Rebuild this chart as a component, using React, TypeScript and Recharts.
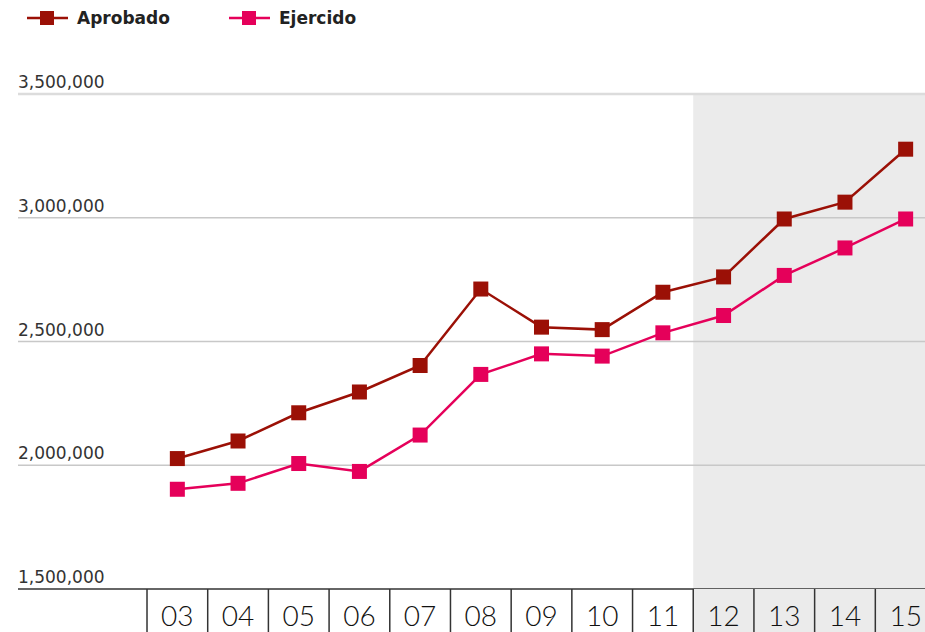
import React from 'react';
import { LineChart, Line, XAxis, YAxis, ReferenceArea, ReferenceLine } from 'recharts';

const years = ['03', '04', '05', '06', '07', '08', '09', '10', '11', '12', '13', '14', '15'];
const aprobado = [2027000, 2098000, 2212000, 2296000, 2403000, 2712000, 2558000, 2548000, 2699000, 2761000, 2995000, 3063000, 3277000];
const ejercido = [1903000, 1927000, 2007000, 1975000, 2122000, 2367000, 2450000, 2441000, 2535000, 2605000, 2767000, 2878000, 2995000];
const yTicks = [1500000, 2000000, 2500000, 3000000, 3500000];
const shadedYears = ['12', '13', '14', '15'];

const series = [
  { key: 'aprobado', name: 'Aprobado', color: '#9b1006' },
  { key: 'ejercido', name: 'Ejercido', color: '#e5005a' },
];

const data = years.map((year, i) => ({ year, aprobado: aprobado[i], ejercido: ejercido[i] }));

const BAND = 60.67;
const AXIS_H = 43;

function SquareDot({ cx, cy, stroke }: any) {
  if (cx == null || cy == null) return null;
  return <rect x={cx - 7.5} y={cy - 7.5} width={15} height={15} fill={stroke} />;
}

function YearTick({ x, y, payload }: any) {
  const top = y - 8;
  const shaded = shadedYears.includes(payload.value);
  return (
    <g>
      {shaded && <rect x={x - BAND / 2} y={top} width={BAND} height={AXIS_H} fill="#ebebeb" />}
      <line x1={x - BAND / 2} y1={top} x2={x - BAND / 2} y2={top + AXIS_H} stroke="#333" strokeWidth={1.5} />
      <text x={x} y={top + 37} textAnchor="middle" fontSize={28} fontWeight={300} fill="#111" fontFamily="Lato, 'Open Sans', sans-serif">
        {payload.value}
      </text>
    </g>
  );
}

function ValueTick({ x, y, payload }: any) {
  return (
    <text x={x} y={y - 6} textAnchor="start" fontSize={17} fill="#333" fontFamily="'DejaVu Sans', sans-serif">
      {Number(payload.value).toLocaleString('en-US')}
    </text>
  );
}

function LegendItems() {
  return (
    <div style={{ position: 'absolute', left: 27, top: 6, display: 'flex', fontFamily: "'DejaVu Sans', sans-serif", fontSize: 17, fontWeight: 600, color: '#222' }}>
      {series.map((s) => (
        <div key={s.key} style={{ display: 'flex', alignItems: 'center', width: 202 }}>
          <svg width={41} height={24}>
            <line x1={0} y1={12} x2={41} y2={12} stroke={s.color} strokeWidth={2.5} />
            <rect x={13} y={5} width={14} height={14} fill={s.color} />
          </svg>
          <span style={{ marginLeft: 9 }}>{s.name}</span>
        </div>
      ))}
    </div>
  );
}

export default function App() {
  return (
    <div style={{ position: 'absolute', left: 0, top: 0, width: 925, height: 632, overflow: 'hidden', background: '#fff' }}>
      <LineChart width={936} height={632} data={data} margin={{ top: 94, right: 0, bottom: 0, left: 17 }}>
        <ReferenceArea
          x1="12"
          x2="15"
          y1={1500000}
          y2={3500000}
          ifOverflow="visible"
          fill="#ebebeb"
          fillOpacity={1}
          stroke="none"
        />
        {yTicks.slice(1).map((t, i) => (
          <ReferenceLine
            key={t}
            y={t}
            stroke={i === yTicks.length - 2 ? '#dcdcdc' : '#c8c8c8'}
            strokeWidth={i === yTicks.length - 2 ? 2.5 : 1.5}
          />
        ))}
        <XAxis
          dataKey="year"
          scale="band"
          height={AXIS_H}
          padding={{ left: 129, right: 0 }}
          axisLine={{ stroke: '#333', strokeWidth: 1.5 }}
          tickLine={false}
          tickSize={0}
          tickMargin={8}
          tick={<YearTick />}
          interval={0}
        />
        <YAxis
          domain={[1500000, 3500000]}
          ticks={yTicks}
          interval={0}
          width={1}
          axisLine={false}
          tickLine={false}
          tickSize={0}
          tickMargin={0}
          tick={<ValueTick />}
        />
        {series.map((s) => (
          <Line
            key={s.key}
            dataKey={s.key}
            name={s.name}
            stroke={s.color}
            strokeWidth={2.5}
            dot={<SquareDot />}
            activeDot={false}
            isAnimationActive={false}
          />
        ))}
      </LineChart>
      <LegendItems />
    </div>
  );
}
